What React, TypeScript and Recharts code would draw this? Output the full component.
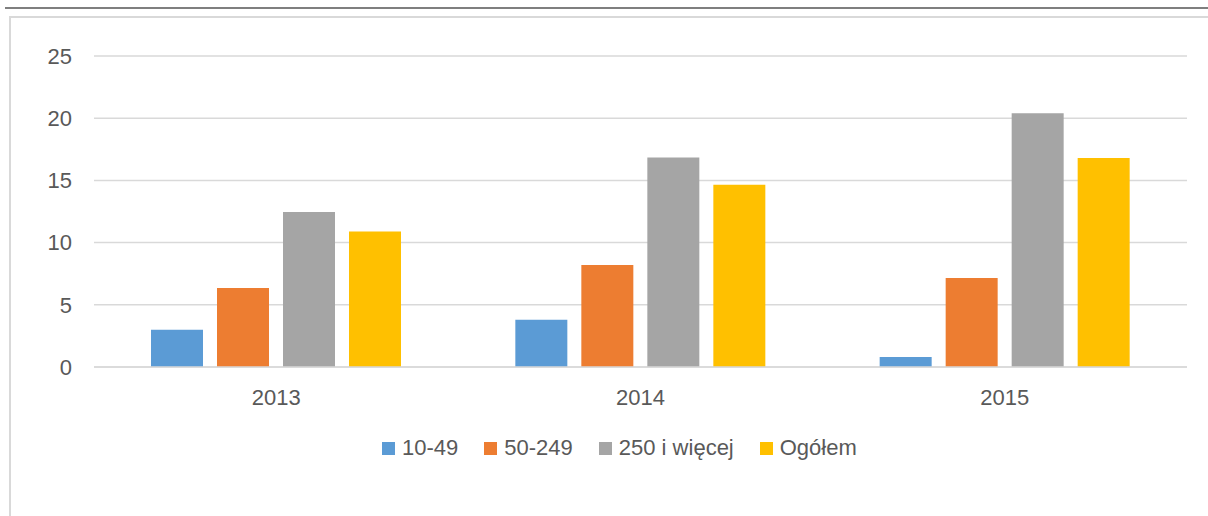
import React from 'react';
import { BarChart, Bar, XAxis, YAxis, CartesianGrid, Legend } from 'recharts';

const years = ['2013', '2014', '2015'];
const small = [3.0, 3.8, 0.8];
const medium = [6.35, 8.2, 7.15];
const large = [12.45, 16.85, 20.4];
const total = [10.9, 14.65, 16.8];
const yTicks = [0, 5, 10, 15, 20, 25];

const seriesNames = ['10-49', '50-249', '250 i więcej', 'Ogółem'];
const seriesKeys = ['small', 'medium', 'large', 'total'];
const colors = ['#5b9bd5', '#ed7d31', '#a5a5a5', '#ffc000'];

const chartData = years.map((year, i) => ({
  year,
  small: small[i],
  medium: medium[i],
  large: large[i],
  total: total[i],
}));

const FONT = '"Liberation Sans", Arial, sans-serif';
const TEXT = '#595959';

const LegendRow = () => (
  <div style={{ display: 'flex', alignItems: 'center', fontFamily: FONT, fontSize: 22, lineHeight: '22px', color: TEXT }}>
    {seriesNames.map((name, i) => (
      <div key={name} style={{ display: 'flex', alignItems: 'center', marginRight: 26 }}>
        <span style={{ width: 13, height: 13, background: colors[i], marginRight: 7, display: 'inline-block' }} />
        <span>{name}</span>
      </div>
    ))}
  </div>
);

export default function App() {
  return (
    <div style={{ position: 'absolute', left: 0, top: 0, width: 1208, height: 516, overflow: 'hidden', background: '#fff' }}>
      <div style={{ position: 'absolute', left: 5, top: 7, width: 1203, height: 2, background: '#7f7f7f' }} />
      <div style={{ position: 'absolute', left: 9, top: 16, width: 1240, height: 540, borderLeft: '2px solid #d9d9d9', borderTop: '2px solid #d9d9d9' }} />
      <div style={{ position: 'absolute', left: 0, top: 0 }}>
        <BarChart
          width={1208}
          height={516}
          data={chartData}
          margin={{ top: 56, right: 21, left: 0, bottom: 119 }}
          barSize={52}
          barGap={14}
        >
          <CartesianGrid vertical={false} stroke="#d9d9d9" strokeWidth={1.5} />
          <XAxis
            dataKey="year"
            height={30}
            tickLine={false}
            axisLine={{ stroke: '#d9d9d9', strokeWidth: 1.5 }}
            tickMargin={16}
            tick={{ fill: TEXT, fontSize: 22, fontFamily: FONT }}
          />
          <YAxis
            width={94}
            domain={[0, 25]}
            ticks={yTicks}
            tickLine={false}
            axisLine={false}
            tickMargin={16}
            tick={{ fill: TEXT, fontSize: 22, fontFamily: FONT }}
          />
          <Legend
            layout="horizontal"
            verticalAlign="middle"
            align="center"
            wrapperStyle={{ top: 437, left: 382, width: 600 }}
            content={() => <LegendRow />}
          />
          {seriesKeys.map((key, i) => (
            <Bar key={key} dataKey={key} name={seriesNames[i]} fill={colors[i]} isAnimationActive={false} />
          ))}
        </BarChart>
      </div>
    </div>
  );
}
